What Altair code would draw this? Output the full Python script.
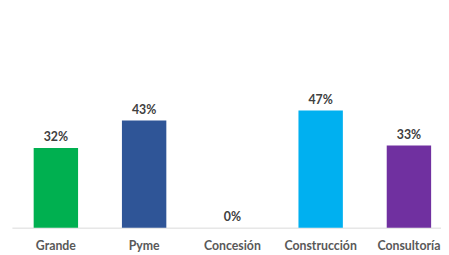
import altair as alt
import pandas as pd

categories = ["Grande", "Pyme", "Concesión", "Construcción", "Consultoría"]
values = [32, 43, 0, 47, 33]
labels = ["32%", "43%", "0%", "47%", "33%"]
bar_colors = {"Grande": "#00B050", "Pyme": "#2F5597", "Concesión": "#A5A5A5",
              "Construcción": "#00B0F0", "Consultoría": "#7030A0"}

df = pd.DataFrame({"cat": categories, "val": values, "lab": labels})

x = alt.X("cat:N", sort=categories, title=None,
          scale=alt.Scale(paddingInner=0.497, paddingOuter=0.179, align=0.6875),
          axis=alt.Axis(labelAngle=0, ticks=False, domainColor="#D9D9D9", domainWidth=1,
                        labelFont="Lato", labelFontSize=12.5, labelFontWeight="bold",
                        labelColor="#595959", labelPadding=12, grid=False))
y = alt.Y("val:Q", scale=alt.Scale(domain=[0, 80]), axis=None)

bars = alt.Chart(df).mark_bar().encode(
    x=x, y=y,
    color=alt.Color("cat:N", scale=alt.Scale(domain=list(bar_colors.keys()),
                                              range=list(bar_colors.values())), legend=None),
)
text = alt.Chart(df).mark_text(dy=-11, font="Lato", fontSize=12.5, fontWeight="bold",
                               color="#404040").encode(x=x, y=y, text="lab:N")

chart = alt.layer(bars, text).properties(
    width=435, height=202,
    padding={"left": 4, "top": 19, "right": 0, "bottom": 2},
).configure_view(stroke=None)

chart.save("out.html", embed_options={"renderer": "svg", "actions": False})
